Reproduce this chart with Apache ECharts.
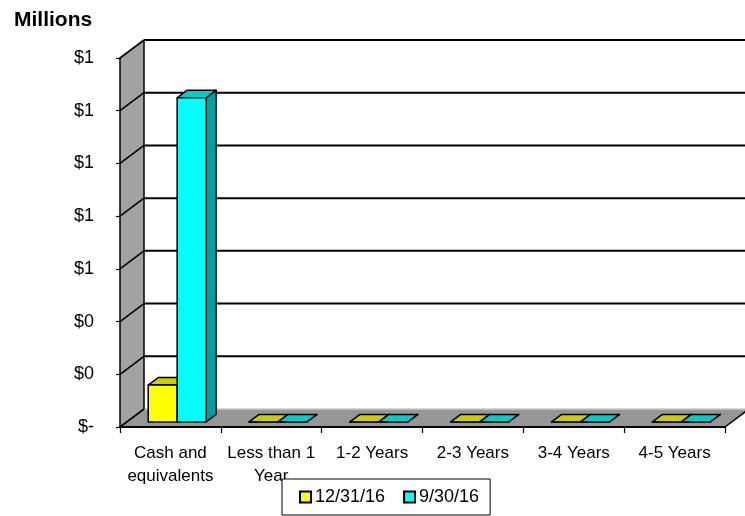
<!DOCTYPE html>
<html>
<head>
<meta charset="utf-8">
<script src="https://cdn.jsdelivr.net/npm/echarts@6/dist/echarts.min.js"></script>
<style>html,body{margin:0;padding:0;background:#fff;}#c{width:745px;height:516px;}</style>
</head>
<body>
<div id="c"></div>
<script>
// ---- data ----
const categories = ['Cash and\nequivalents', 'Less than 1\nYear', '1-2 Years', '2-3 Years', '3-4 Years', '4-5 Years'];
const seriesNames = ['12/31/16', '9/30/16'];
const values1231 = [0.14, 0, 0, 0, 0, 0];   // millions
const values0930 = [1.23, 0, 0, 0, 0, 0];   // millions
const yTicks = [0, 0.2, 0.4, 0.6, 0.8, 1.0, 1.2, 1.4];

// ---- style ----
const FONT = 'Liberation Sans, Arial, sans-serif';
const DEPTH = [24, -18];
const frontColors = ['#FFFF00', '#00FFFF'];
const topColors = ['#CCCC00', '#00CCCC'];
const sideColors = ['#999900', '#00A0A0'];

const chart = echarts.init(document.getElementById('c'), null, {renderer: 'canvas'});

function wallsRender(params, api) {
  const bandW = api.size([1, 0])[0];
  const x0 = api.coord([0, 0])[0] - bandW / 2;
  const x1 = x0 + bandW * categories.length;
  const yOf = v => api.coord([0, v])[1];
  const yBot = yOf(yTicks[0]);
  const yTop = yOf(yTicks[yTicks.length - 1]);
  const dx = DEPTH[0], dy = DEPTH[1];
  const children = [];
  children.push({type: 'polygon', shape: {points: [[x0, yTop], [x0 + dx, yTop + dy], [x0 + dx, yBot + dy], [x0, yBot]]},
    style: {fill: '#A2A2A2', stroke: null}});
  children.push({type: 'polygon', shape: {points: [[x0, yBot], [x0 + dx, yBot + dy], [x1 + dx, yBot + dy], [x1, yBot]]},
    style: {fill: '#969696', stroke: null}});
  // floor back edge
  children.push({type: 'line', shape: {x1: x0 + dx, y1: yBot + dy, x2: x1 + dx, y2: yBot + dy},
    style: {stroke: '#C8C8C8', lineWidth: 1.5}});
  yTicks.forEach((v, i) => {
    const y = yOf(v);
    children.push({type: 'line', shape: {x1: x0, y1: y, x2: x0 + dx, y2: y + dy},
      style: {stroke: '#000', lineWidth: 1.6}});
    if (i > 0) {
      children.push({type: 'line', shape: {x1: x0 + dx, y1: y + dy, x2: x1 + dx + 4, y2: y + dy},
        style: {stroke: '#000', lineWidth: 2}});
    }
  });
  children.push({type: 'line', shape: {x1: x0 + dx, y1: yTop + dy, x2: x0 + dx, y2: yBot + dy},
    style: {stroke: '#000', lineWidth: 1.5}});
  children.push({type: 'line', shape: {x1: x1, y1: yBot, x2: x1 + dx, y2: yBot + dy},
    style: {stroke: '#000', lineWidth: 1.5}});
  return {type: 'group', children: children};
}

function barRender(sIdx) {
  return function (params, api) {
    const cat = api.value(0), val = api.value(1);
    const top = api.coord([cat, val]);
    const base = api.coord([cat, 0]);
    const bandW = api.size([1, 0])[0];
    const barW = bandW * 0.287;
    const fx = DEPTH[0] * 0.28, fy = DEPTH[1] * 0.28;
    const bx = DEPTH[0] * 0.42, by = DEPTH[1] * 0.42;
    const xl = top[0] + fx + (sIdx === 0 ? -barW : 0);
    const xr = xl + barW;
    const yt = top[1] + fy, yb = base[1] + fy;
    const st = {stroke: '#000', lineWidth: 1.5, lineJoin: 'round'};
    return {type: 'group', children: [
      {type: 'polygon', shape: {points: [[xr, yt], [xr + bx, yt + by], [xr + bx, yb + by], [xr, yb]]},
        style: Object.assign({fill: sideColors[sIdx]}, st)},
      {type: 'polygon', shape: {points: [[xl, yt], [xl + bx, yt + by], [xr + bx, yt + by], [xr, yt]]},
        style: Object.assign({fill: topColors[sIdx]}, st)},
      {type: 'polygon', shape: {points: [[xl, yt], [xr, yt], [xr, yb], [xl, yb]]},
        style: Object.assign({fill: frontColors[sIdx]}, st)}
    ]};
  };
}

const option = {
  animation: false,
  backgroundColor: '#fff',
  title: {text: 'Millions', left: 9, top: 5,
    textStyle: {fontFamily: FONT, fontSize: 21, fontWeight: 'bold', color: '#000'}},
  legend: {
    data: seriesNames.map((n, i) => ({name: n, itemStyle: {color: frontColors[i], borderColor: '#000', borderWidth: 2}})),
    left: 282, top: 479, orient: 'horizontal',
    itemWidth: 11, itemHeight: 11, itemGap: 18, icon: 'rect',
    padding: [9, 11, 9, 17],
    backgroundColor: '#fff', borderColor: '#000', borderWidth: 1,
    textStyle: {fontFamily: FONT, fontSize: 18, color: '#000', padding: [0, 0, 0, -1]},
    z: 20
  },
  grid: {left: 120, right: 20, top: 58, bottom: 89},
  xAxis: {
    type: 'category', data: categories, z: 10,
    axisLine: {lineStyle: {color: '#000', width: 2}},
    axisTick: {show: true, length: 6, lineStyle: {color: '#000', width: 1.2}},
    axisLabel: {interval: 0, fontFamily: FONT, fontSize: 17, lineHeight: 23, color: '#000', margin: 15},
    splitLine: {show: false}
  },
  yAxis: {
    type: 'value', min: yTicks[0], max: yTicks[yTicks.length - 1], interval: 0.2, z: 10,
    axisLine: {show: true, lineStyle: {color: '#000', width: 1.5}},
    axisTick: {show: true, length: 4, lineStyle: {color: '#000', width: 1.2}},
    splitLine: {show: false},
    axisLabel: {fontFamily: FONT, fontSize: 18, color: '#000', margin: 26,
      formatter: v => (Math.abs(v) < 1e-9 ? '$-' : '$' + Math.round(v))}
  },
  series: [
    {type: 'custom', name: '_walls', renderItem: wallsRender, data: [[0, 0]], z: 1, silent: true, clip: false},
    {type: 'custom', name: seriesNames[0], renderItem: barRender(0), z: 3, clip: false,
      itemStyle: {color: frontColors[0]},
      data: values1231.map((v, i) => [i, v])},
    {type: 'custom', name: seriesNames[1], renderItem: barRender(1), z: 4, clip: false,
      itemStyle: {color: frontColors[1]},
      data: values0930.map((v, i) => [i, v])}
  ]
};
chart.setOption(option);
</script>
</body>
</html>
